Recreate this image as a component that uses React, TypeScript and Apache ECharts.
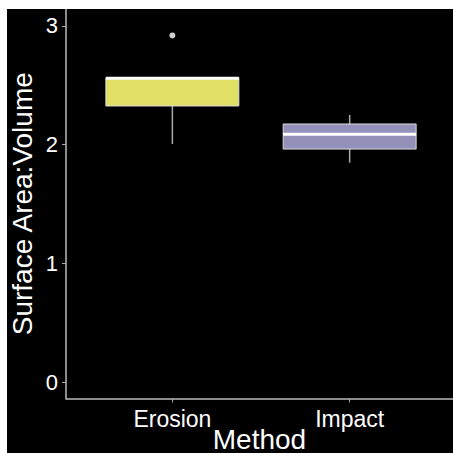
import React, { useEffect, useRef } from "react";
import * as echarts from "echarts";

const categories = ["Erosion", "Impact"];
const lowerWhisker = [2.006, 1.848];
const q1 = [2.326, 1.963];
const median = [2.56, 2.087];
const q3 = [2.564, 2.174];
const upperWhisker = [2.564, 2.25];
const outliers: [number, number][] = [[0, 2.92]];
const fills = ["#E0E064", "#9391BA"];
const yTicks = [0, 1, 2, 3];

const FONT = "'Liberation Sans', Arial, Helvetica, sans-serif";

export default function App() {
  const ref = useRef<HTMLDivElement>(null);
  useEffect(() => {
    document.body.style.margin = "0";
    const chart = echarts.init(ref.current!, null, { renderer: "svg" });
    const boxData = categories.map((c, i) => [
      i + 1,
      lowerWhisker[i],
      q1[i],
      median[i],
      q3[i],
      upperWhisker[i],
    ]);
    chart.setOption({
      animation: false,
      backgroundColor: "#000",
      grid: { left: 59, right: 0, top: 0, bottom: 54.5, containLabel: false, outerBoundsMode: "none" },
      xAxis: {
        type: "value",
        min: 0.4,
        max: 2.583,
        name: "Method",
        nameLocation: "middle",
        nameGap: 27,
        nameMoveOverlap: false,
        nameTextStyle: { color: "#fff", fontSize: 28, fontFamily: FONT },
        axisLine: { show: true, onZero: false, lineStyle: { color: "#bbb", width: 1.5 } },
        axisTick: { show: true, length: 4, customValues: [1, 2], lineStyle: { color: "#aaa" } },
        axisLabel: {
          customValues: [1, 2],
          formatter: (v: number) => categories[Math.round(v) - 1],
          color: "#fff",
          fontSize: 23,
          fontFamily: FONT,
          margin: 9,
        },
        splitLine: { show: false },
      },
      yAxis: {
        type: "value",
        min: -0.139,
        max: 3.143,
        name: "Surface Area:Volume",
        nameLocation: "middle",
        nameGap: 30,
        nameMoveOverlap: false,
        nameTextStyle: { color: "#fff", fontSize: 28, fontFamily: FONT },
        axisLine: { show: true, onZero: false, lineStyle: { color: "#bbb", width: 1.5 } },
        axisTick: { show: true, length: 4, customValues: yTicks, lineStyle: { color: "#aaa" } },
        axisLabel: {
          customValues: yTicks,
          color: "#fff",
          fontSize: 22,
          fontFamily: FONT,
          margin: 8,
        },
        splitLine: { show: false },
      },
      series: [
        {
          type: "custom",
          data: boxData,
          encode: { x: 0, y: [1, 2, 3, 4, 5] },
          renderItem: (params: any, api: any) => {
            const x = api.value(0);
            const i = params.dataIndex;
            const half = 0.375;
            const pLow = api.coord([x, api.value(1)]);
            const pQ1 = api.coord([x, api.value(2)]);
            const pMed = api.coord([x, api.value(3)]);
            const pQ3 = api.coord([x, api.value(4)]);
            const pHigh = api.coord([x, api.value(5)]);
            const left = api.coord([x - half, api.value(3)])[0];
            const right = api.coord([x + half, api.value(3)])[0];
            const whisker = { stroke: "#aaa", lineWidth: 1.5 };
            return {
              type: "group",
              children: [
                {
                  type: "line",
                  shape: { x1: pLow[0], y1: pLow[1], x2: pQ1[0], y2: pQ1[1] },
                  style: whisker,
                },
                {
                  type: "line",
                  shape: { x1: pQ3[0], y1: pQ3[1], x2: pHigh[0], y2: pHigh[1] },
                  style: whisker,
                },
                {
                  type: "rect",
                  shape: { x: left, y: pQ3[1], width: right - left, height: pQ1[1] - pQ3[1] },
                  style: { fill: fills[i], stroke: "#ddd", lineWidth: 1 },
                },
                {
                  type: "line",
                  shape: { x1: left, y1: pMed[1], x2: right, y2: pMed[1] },
                  style: { stroke: "#fff", lineWidth: 3 },
                },
              ],
            };
          },
          z: 2,
        },
        {
          type: "scatter",
          data: outliers.map(([i, v]) => [i + 1, v]),
          symbol: "circle",
          symbolSize: 6,
          itemStyle: { color: "#fff" },
          z: 3,
        },
      ],
    });
    return () => chart.dispose();
  }, []);
  return (
    <div style={{ position: "relative", width: 453, height: 453, background: "#fff", overflow: "hidden" }}>
      <div
        ref={ref}
        style={{ position: "absolute", left: 7, top: 9, width: 446, height: 444 }}
      />
    </div>
  );
}
